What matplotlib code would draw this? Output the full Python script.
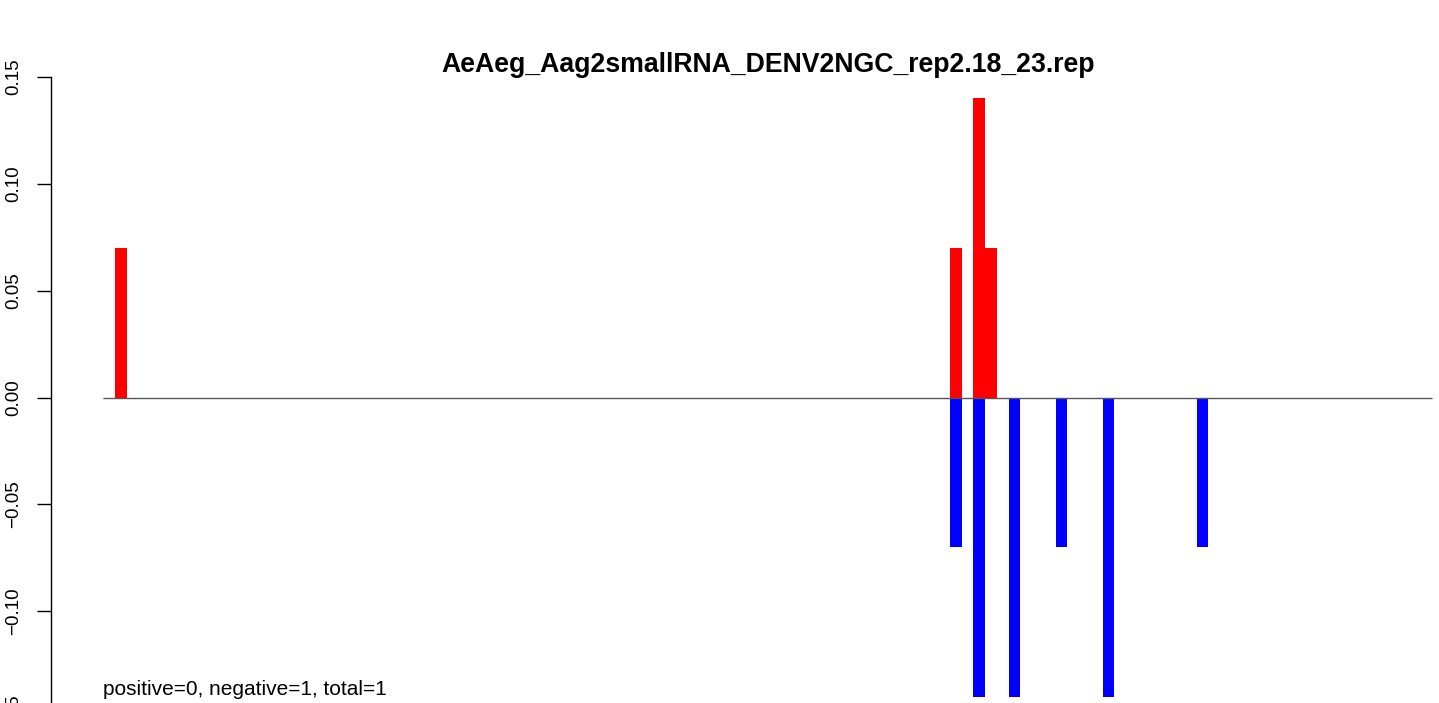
import numpy as np
import matplotlib.pyplot as plt

plt.rcParams['font.family'] = ['Liberation Sans', 'DejaVu Sans']

# bar positions (one slot per position along the sequence)
n_slots = 113
pos_idx = [1, 72, 74, 75]
pos_val = [0.07, 0.07, 0.14, 0.07]
neg_idx = [72, 74, 77, 81, 85, 93]
neg_val = [-0.07, -0.14, -0.14, -0.07, -0.14, -0.07]

title = "AeAeg_Aag2smallRNA_DENV2NGC_rep2.18_23.rep"
note = "positive=0, negative=1, total=1"
yticks = [-0.15, -0.10, -0.05, 0.00, 0.05, 0.10, 0.15]

W, H = 1439, 703
fig = plt.figure(figsize=(W / 100, H / 100), dpi=100)
# plot region runs a little below the bottom edge, as in the original
ax = fig.add_axes([51 / W, -15 / H, 1 - 51 / W, (H - 77 + 15) / H])

ax.bar(pos_idx, pos_val, width=1.0, align='edge', color='red', linewidth=0)
ax.bar(neg_idx, neg_val, width=1.0, align='edge', color='blue', linewidth=0)
ax.hlines(0, 0, n_slots, color='#555555', linewidth=1)

for s in ['top', 'right', 'bottom']:
    ax.spines[s].set_visible(False)
ax.spines['left'].set_linewidth(1)
ax.set_xticks([])
ax.set_yticks(yticks)
ax.set_yticklabels([f"{v:.2f}".replace('-', '\u2212') for v in yticks],
                   rotation=90, va='center', fontsize=13.5)
ax.tick_params(axis='y', length=10, width=1, pad=11)

ax.set_xlim(-4.42, 113.6)
ax.set_ylim(-0.15, 0.15)

fig.text(768 / W, 1 - 65 / H, title, ha='center', va='center',
         fontsize=19.2, fontweight='bold')
ax.text(0, -0.1365, note, ha='left', va='center', fontsize=15)

fig.savefig('out.png', dpi=100)
